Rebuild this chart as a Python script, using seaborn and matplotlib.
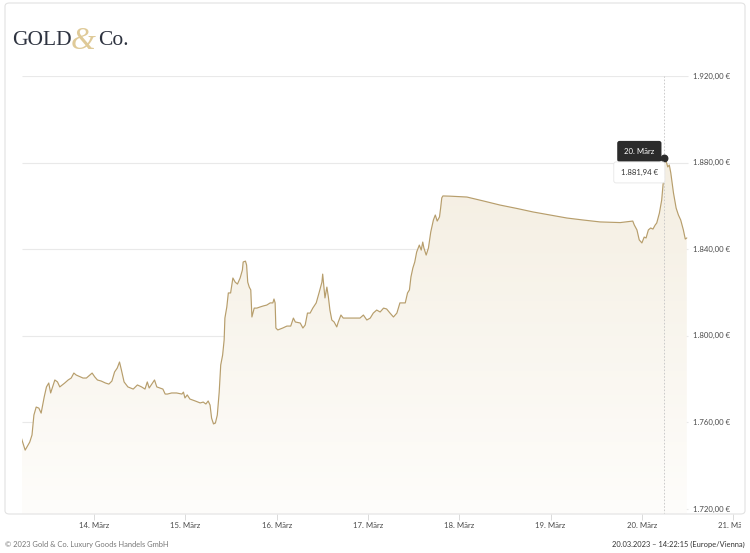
import numpy as np
import pandas as pd
import seaborn as sns
import matplotlib.pyplot as plt
from matplotlib.patches import FancyBboxPatch, Rectangle
from matplotlib.colors import LinearSegmentedColormap

# Gold price (EUR/oz), hours counted from 13.03.2023 00:00
hours = [4.9, 5.9, 7.1, 7.7, 8.2, 8.8, 9.5, 10.1, 10.9, 11.5, 12.1, 12.6, 13.7, 14.4, 15.0,
         16.3, 17.2, 18.0, 18.7, 19.3, 21.1, 22.0, 22.9, 23.5, 24.2, 24.9, 25.9, 27.0, 27.9,
         28.7, 29.4, 30.1, 30.7, 31.2, 31.9, 32.9, 34.3, 35.4, 36.5, 37.4, 38.0, 38.5, 39.9,
         40.5, 41.3, 42.1, 42.7, 43.3, 44.4, 45.7, 47.1, 47.5, 47.9, 48.5, 49.2, 50.6, 51.9,
         52.7, 53.4, 54.0, 54.5, 54.9, 55.4, 55.9, 56.4, 56.9, 57.3, 57.8, 58.2, 58.4, 58.9,
         59.3, 59.9, 60.5, 61.1, 61.7, 62.4, 63.0, 63.2, 63.8, 64.1, 64.4, 64.8, 65.2, 65.5,
         66.1, 66.8, 67.6, 68.5, 69.4, 70.3, 71.0, 71.3, 71.6, 71.8, 72.3, 72.9, 73.6, 74.7,
         75.7, 76.4, 76.9, 78.2, 78.9, 79.5, 80.1, 80.8, 81.5, 82.4, 83.2, 83.9, 84.1, 84.7,
         85.2, 85.6, 86.0, 86.5, 87.1, 87.8, 88.2, 88.9, 89.5, 90.8, 92.2, 93.9, 94.8, 95.7,
         96.6, 97.4, 98.3, 99.2, 100.1, 100.9, 101.8, 102.7, 103.6, 104.4, 105.2, 105.8,
         106.4, 106.9, 107.3, 107.8, 108.3, 108.8, 109.5, 110.0, 110.4, 110.7, 111.3, 111.9,
         112.5, 113.2, 113.7, 114.2, 114.8, 115.1, 115.4, 115.7, 117.6, 122.0, 126.3, 130.7,
         135.2, 139.4, 143.9, 148.3, 152.5, 157.0, 162.3, 165.6, 166.0, 166.7, 167.3, 168.0,
         168.6, 169.1, 169.7, 170.3, 170.9, 171.5, 171.9, 172.6, 173.2, 173.6, 173.9, 174.4,
         174.8, 175.2, 175.6, 176.3, 177.0, 177.6, 178.2, 178.9, 179.4, 179.8]
prices = [1752.8, 1747.2, 1750.9, 1754.2, 1763.4, 1767.1, 1766.6, 1764.3, 1771.7, 1776.4,
          1778.2, 1773.6, 1779.6, 1778.7, 1776.4, 1778.2, 1779.6, 1780.5, 1782.8, 1781.9,
          1780.5, 1780.5, 1781.9, 1782.8, 1781.0, 1779.6, 1779.1, 1778.2, 1777.7, 1779.1,
          1783.3, 1785.1, 1787.9, 1784.2, 1778.7, 1776.4, 1775.4, 1777.3, 1776.4, 1775.4,
          1778.7, 1775.9, 1779.6, 1776.4, 1775.9, 1775.4, 1773.1, 1773.1, 1773.6, 1773.6,
          1773.1, 1774.0, 1771.3, 1772.7, 1770.8, 1769.9, 1769.0, 1769.4, 1768.5, 1769.9,
          1768.0, 1762.0, 1759.3, 1759.7, 1763.4, 1774.0, 1786.5, 1791.1, 1798.1, 1808.2,
          1813.3, 1819.8, 1819.8, 1826.7, 1824.8, 1823.9, 1826.7, 1830.4, 1834.1, 1834.5,
          1832.7, 1824.8, 1822.5, 1821.2, 1808.7, 1812.8, 1812.8, 1813.3, 1813.8, 1814.2,
          1815.2, 1815.2, 1817.0, 1815.2, 1803.6, 1802.7, 1803.1, 1803.6, 1804.5, 1804.5,
          1808.2, 1806.4, 1805.9, 1803.6, 1805.0, 1810.5, 1810.5, 1812.8, 1815.2, 1820.2,
          1824.8, 1828.5, 1817.5, 1822.5, 1817.9, 1811.9, 1807.3, 1806.4, 1804.1, 1806.4,
          1809.6, 1808.2, 1808.2, 1808.2, 1808.2, 1809.6, 1807.3, 1808.2, 1810.5, 1811.9,
          1811.0, 1812.8, 1812.4, 1810.5, 1808.7, 1810.5, 1815.2, 1815.2, 1815.2, 1819.8,
          1821.2, 1827.2, 1831.3, 1834.1, 1838.7, 1841.9, 1839.6, 1843.3, 1840.6, 1837.3,
          1840.6, 1847.9, 1853.5, 1855.8, 1853.0, 1854.9, 1859.0, 1863.7, 1864.6, 1864.5,
          1864.1, 1862.3, 1860.4, 1858.8, 1857.2, 1855.8, 1854.4, 1853.5, 1852.6, 1852.3,
          1853.0, 1851.2, 1848.9, 1844.3, 1842.9, 1845.6, 1845.2, 1848.9, 1849.8, 1849.3,
          1851.2, 1852.1, 1856.7, 1862.7, 1870.6, 1881.94, 1880.5, 1878.0, 1878.9, 1875.2,
          1866.0, 1859.0, 1855.8, 1853.5, 1848.9, 1844.7, 1845.2]

day_ticks = [24, 48, 72, 96, 120, 144, 168, 192]
day_labels = ['14. März', '15. März', '16. März', '17. März', '18. März', '19. März',
              '20. März', '21. März']
price_ticks = [1720, 1760, 1800, 1840, 1880, 1920]

df = pd.DataFrame({'hour': hours, 'price': prices})

sns.set_theme(style='white')
plt.rcParams['font.family'] = ['Lato', 'DejaVu Sans']

line_color = '#b79e6c'
x_min, x_max, grid_end = 5.07, 195.1, 180.1
y_min, y_max = 1717.7, 1920

fig = plt.figure(figsize=(7.5, 5.53), dpi=100)
ax = fig.add_axes([22 / 750, 1 - 514 / 553, 723 / 750, (514 - 76) / 553])

# gradient fill under the line
poly = ax.fill_between(df['hour'], df['price'], y_min, color='none', lw=0)
cmap = LinearSegmentedColormap.from_list('goldfade', ['#fefdfb', '#f4eee1'])
grad = np.linspace(0, 1, 256).reshape(-1, 1)
img = ax.imshow(grad, cmap=cmap, aspect='auto', origin='lower',
                extent=[df['hour'].min(), df['hour'].max(), y_min, df['price'].max()], zorder=1)
img.set_clip_path(poly.get_paths()[0], transform=ax.transData)

sns.lineplot(data=df, x='hour', y='price', color=line_color, linewidth=0.85, ax=ax, zorder=3)

ax.hlines(price_ticks, x_min, grid_end, color='#e9e9e9', linewidth=0.8, zorder=0)
for p in price_ticks:
    lab = f'{p:,.2f} €'.replace(',', 'X').replace('.', ',').replace('X', '.')
    ax.text(181.5, p, lab, ha='left', va='center', fontsize=5.6, color='#4a4a4a')

ax.set_xlim(x_min, x_max)
ax.set_ylim(y_min, y_max)
ax.set_xticks(day_ticks)
ax.set_xticklabels(day_labels)
ax.set_yticks([])
ax.tick_params(axis='x', length=4, width=0.6, color='#d5d5d5', pad=1.5,
               labelsize=5.6, labelcolor='#4a4a4a', bottom=True)
ax.set_xlabel('')
ax.set_ylabel('')
for s in ax.spines.values():
    s.set_visible(False)

# hover marker and tooltip on the high
i_max = int(np.argmax(prices))
peak_h, peak_p = hours[i_max], prices[i_max]
ax.axvline(peak_h, color='#c4c4c4', linewidth=0.6, linestyle=(0, (2, 2)), zorder=2)
ax.scatter([peak_h], [peak_p], s=22, color='#2b2b2b', zorder=5)
ax.annotate('20. März', xy=(peak_h, peak_p), xytext=(-25, 7), textcoords='offset pixels',
            ha='center', va='center', fontsize=5.6, color='white', zorder=6,
            bbox=dict(boxstyle='round,pad=0.9,rounding_size=0.3', fc='#2b2b2b', ec='none'))
ax.annotate('1.881,94 €', xy=(peak_h, peak_p), xytext=(-25, -14), textcoords='offset pixels',
            ha='center', va='center', fontsize=5.6, color='#333333', zorder=6,
            bbox=dict(boxstyle='round,pad=0.9,rounding_size=0.3', fc='white', ec='#e6e6e6', lw=0.6))

# card frame, logo and footer
fig.patches.append(Rectangle((741 / 750, 0.02), 9 / 750, 0.06, transform=fig.transFigure,
                             fc='white', ec='none', zorder=5))
fig.patches.append(FancyBboxPatch((5 / 750, 1 - 514 / 553), 740 / 750, 511 / 553,
                                  boxstyle='round,pad=0,rounding_size=0.006',
                                  transform=fig.transFigure, fc='none', ec='#e2e2e2', lw=0.8, zorder=6))
fig.text(12 / 750, 1 - 45 / 553, 'GOLD', family='Liberation Serif', fontsize=15.5,
         color='#2e3340', va='baseline')
fig.text(71 / 750, 1 - 49 / 553, '&', family='Liberation Serif', style='italic', fontsize=23,
         color='#dfca98', va='baseline')
fig.text(98 / 750, 1 - 45 / 553, 'Co.', family='Liberation Serif', fontsize=15.5,
         color='#2e3340', va='baseline')
fig.text(5 / 750, 1 - 544 / 553, '© 2023 Gold & Co. Luxury Goods Handels GmbH', fontsize=5.4,
         color='#777777', va='center', ha='left')
fig.text(745 / 750, 1 - 544 / 553, '20.03.2023 – 14:22:15 (Europe/Vienna)', fontsize=5.4,
         color='#333333', va='center', ha='right')

fig.savefig('out.png', dpi=100, facecolor='white')
